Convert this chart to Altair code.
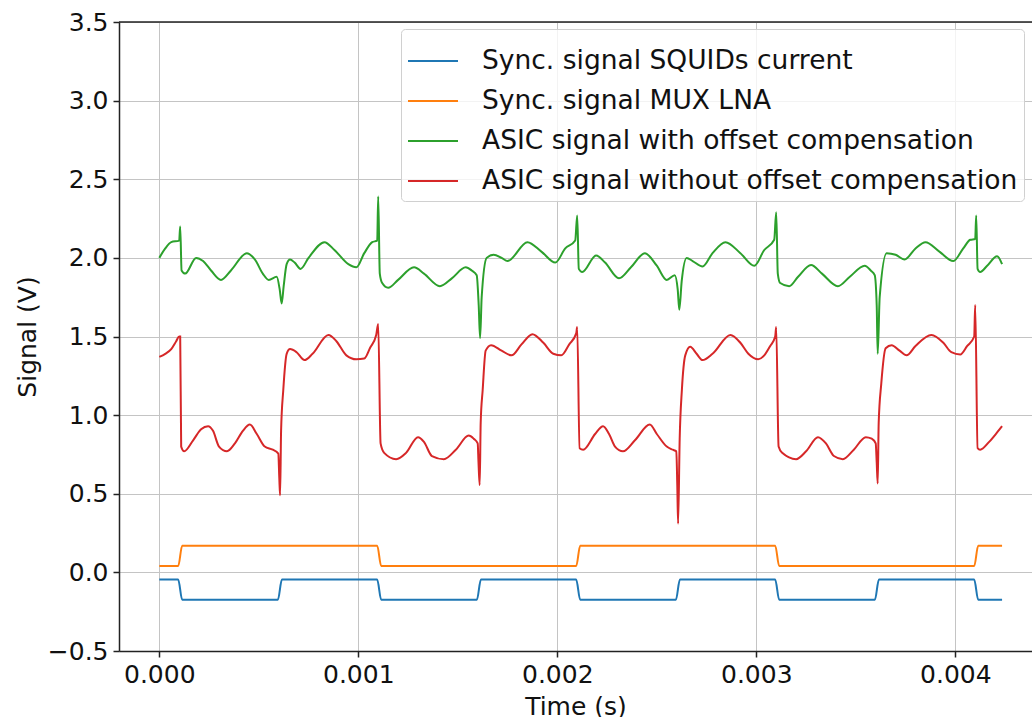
import altair as alt
import pandas as pd

# ---- data (time in ms, signal in V) ----
t_squid = [0.0, 0.095, 0.115, 0.596, 0.616, 1.095, 1.115, 1.596, 1.616, 2.095, 2.115,
           2.596, 2.616, 3.095, 3.115, 3.596, 3.616, 4.095, 4.115, 4.235]
v_squid = [-0.046, -0.046, -0.174, -0.174, -0.046, -0.046, -0.174, -0.174, -0.046, -0.046, -0.174,
           -0.174, -0.046, -0.046, -0.174, -0.174, -0.046, -0.046, -0.174, -0.174]

t_mux = [0.0, 0.095, 0.115, 1.095, 1.115, 2.095, 2.115, 3.095, 3.115, 4.095, 4.115, 4.235]
v_mux = [0.040, 0.040, 0.170, 0.170, 0.040, 0.040, 0.170, 0.170, 0.040, 0.040, 0.170, 0.170]

t_with = [0.00, 0.03, 0.06, 0.10, 0.105, 0.112, 0.13, 0.185, 0.22, 0.26, 0.31, 0.36, 0.44, 0.48,
          0.52, 0.55, 0.59, 0.605, 0.615, 0.625, 0.64, 0.657, 0.68, 0.71, 0.75, 0.83, 0.88, 0.95,
          0.99, 1.03, 1.07, 1.095, 1.10, 1.108, 1.12, 1.15, 1.20, 1.28, 1.33, 1.41, 1.47, 1.54,
          1.57, 1.595, 1.605, 1.612, 1.62, 1.645, 1.68, 1.72, 1.75, 1.85, 1.92, 1.99, 2.04, 2.09,
          2.10, 2.108, 2.125, 2.195, 2.24, 2.31, 2.37, 2.44, 2.50, 2.55, 2.59, 2.605, 2.613, 2.625,
          2.65, 2.68, 2.73, 2.78, 2.845, 2.92, 2.99, 3.04, 3.09, 3.10, 3.108, 3.12, 3.165, 3.21,
          3.275, 3.33, 3.41, 3.47, 3.545, 3.575, 3.595, 3.605, 3.61, 3.62, 3.655, 3.70, 3.745,
          3.80, 3.85, 3.92, 3.99, 4.04, 4.075, 4.10, 4.105, 4.112, 4.125, 4.16, 4.21, 4.235]
v_with = [2.00, 2.06, 2.10, 2.11, 2.20, 1.92, 1.90, 2.00, 1.98, 1.92, 1.86, 1.92, 2.03, 1.99,
          1.90, 1.86, 1.88, 1.80, 1.71, 1.82, 1.96, 1.99, 1.97, 1.93, 2.00, 2.10, 2.05, 1.96,
          1.94, 2.03, 2.10, 2.11, 2.39, 1.90, 1.84, 1.81, 1.86, 1.94, 1.90, 1.82, 1.87, 1.94,
          1.92, 1.89, 1.70, 1.49, 1.75, 2.00, 2.02, 2.00, 1.98, 2.10, 2.04, 1.97, 2.06, 2.11,
          2.27, 1.93, 1.91, 2.015, 1.97, 1.87, 1.94, 2.03, 1.95, 1.86, 1.89, 1.80, 1.67, 1.85,
          2.00, 1.98, 1.945, 2.03, 2.10, 2.03, 1.95, 2.05, 2.115, 2.29, 1.90, 1.84, 1.82, 1.88,
          1.955, 1.90, 1.82, 1.88, 1.95, 1.92, 1.89, 1.70, 1.39, 1.75, 2.03, 2.02, 1.99,
          2.06, 2.10, 2.04, 1.98, 2.06, 2.115, 2.12, 2.27, 1.93, 1.91, 1.95, 2.01, 1.96]

t_without = [0.00, 0.03, 0.06, 0.085, 0.10, 0.105, 0.11, 0.125, 0.17, 0.21, 0.245, 0.27, 0.30,
             0.34, 0.38, 0.42, 0.455, 0.49, 0.53, 0.57, 0.598, 0.603, 0.607, 0.612, 0.623, 0.64,
             0.657, 0.69, 0.73, 0.77, 0.85, 0.89, 0.94, 0.99, 1.03, 1.06, 1.09, 1.10, 1.112, 1.13,
             1.19, 1.24, 1.30, 1.33, 1.37, 1.43, 1.49, 1.555, 1.58, 1.60, 1.604, 1.61, 1.615,
             1.625, 1.64, 1.667, 1.72, 1.77, 1.82, 1.875, 1.93, 1.98, 2.02, 2.06, 2.095, 2.10,
             2.112, 2.13, 2.19, 2.23, 2.26, 2.29, 2.33, 2.39, 2.465, 2.50, 2.55, 2.58, 2.598,
             2.603, 2.607, 2.615, 2.626, 2.643, 2.668, 2.70, 2.73, 2.78, 2.87, 2.92, 2.96, 3.01,
             3.04, 3.07, 3.095, 3.10, 3.112, 3.13, 3.20, 3.25, 3.31, 3.35, 3.39, 3.435, 3.49,
             3.55, 3.58, 3.60, 3.605, 3.61, 3.615, 3.628, 3.65, 3.68, 3.72, 3.755, 3.80, 3.88,
             3.94, 3.98, 4.025, 4.06, 4.095, 4.10, 4.112, 4.125, 4.17, 4.21, 4.235]
v_without = [1.37, 1.39, 1.42, 1.47, 1.50, 1.50, 0.80, 0.77, 0.84, 0.91, 0.93, 0.90, 0.80,
             0.77, 0.82, 0.90, 0.94, 0.88, 0.80, 0.78, 0.755, 0.60, 0.49, 0.90, 1.16, 1.39,
             1.42, 1.40, 1.35, 1.39, 1.51, 1.47, 1.38, 1.355, 1.36, 1.43, 1.51, 1.58, 0.82, 0.76,
             0.72, 0.76, 0.86, 0.83, 0.74, 0.72, 0.78, 0.87, 0.85, 0.82, 0.70, 0.555, 0.95,
             1.16, 1.41, 1.445, 1.41, 1.38, 1.45, 1.515, 1.46, 1.39, 1.38, 1.45, 1.52, 1.56,
             0.79, 0.78, 0.88, 0.93, 0.88, 0.80, 0.77, 0.84, 0.94, 0.88, 0.80, 0.78, 0.77,
             0.55, 0.31, 0.85, 1.16, 1.38, 1.435, 1.39, 1.35, 1.39, 1.51, 1.46, 1.39, 1.355,
             1.38, 1.44, 1.50, 1.56, 0.80, 0.76, 0.72, 0.77, 0.86, 0.82, 0.74, 0.72, 0.78,
             0.86, 0.85, 0.82, 0.70, 0.565, 0.95, 1.20, 1.425, 1.445, 1.41, 1.38, 1.44, 1.51,
             1.46, 1.40, 1.385, 1.44, 1.50, 1.70, 0.79, 0.78, 0.83, 0.89, 0.93]

names = ["Sync. signal SQUIDs current", "Sync. signal MUX LNA",
         "ASIC signal with offset compensation", "ASIC signal without offset compensation"]
colors = ["#1f77b4", "#ff7f0e", "#2ca02c", "#d62728"]
x_ticks = [0.0, 0.001, 0.002, 0.003, 0.004]
y_ticks = [-0.5, 0.0, 0.5, 1.0, 1.5, 2.0, 2.5, 3.0, 3.5]

rows = []
for name, ts, vs in zip(names, [t_squid, t_mux, t_with, t_without],
                        [v_squid, v_mux, v_with, v_without]):
    for i, (t, v) in enumerate(zip(ts, vs)):
        rows.append({"series": name, "t": t / 1000.0, "v": v, "i": i})
df = pd.DataFrame(rows)

FONT = "DejaVu Sans"

x_enc = alt.X("t:Q", scale=alt.Scale(domain=[-0.0002025, 0.0043854], nice=False, zero=False),
              axis=alt.Axis(values=x_ticks, format=".3f", title="Time (s)"))
y_enc = alt.Y("v:Q", scale=alt.Scale(domain=[-0.5, 3.5], nice=False, zero=False),
              axis=alt.Axis(values=y_ticks, format=".1f", title="Signal (V)"))

lines = alt.Chart(df).mark_line(strokeWidth=2, clip=True, interpolate="monotone").encode(
    x=x_enc,
    y=y_enc,
    color=alt.Color("series:N", scale=alt.Scale(domain=names, range=colors),
                    legend=alt.Legend(title=None, orient="none", legendX=282, legendY=7,
                                      symbolType="stroke", symbolSize=2500, symbolStrokeWidth=2,
                                      labelFontSize=26.5, labelFont=FONT, labelColor="#111",
                                      labelLimit=0, labelOffset=23, rowPadding=-1,
                                      padding=6, fillColor="rgba(255,255,255,0.8)",
                                      strokeColor="#d0d0d0", cornerRadius=4)),
    order="i:Q",
)

top = alt.Chart(pd.DataFrame({"top": [3.5]})).mark_rule(color="#222", strokeWidth=1.5).encode(
    y=alt.Y("top:Q", scale=alt.Scale(domain=[-0.5, 3.5], nice=False, zero=False))
)

chart = alt.layer(lines, top).properties(
    width=913, height=629,
    autosize=alt.AutoSizeParams(type="none"),
    padding={"left": 119, "top": 22, "right": 0, "bottom": 66},
).configure_view(stroke=None).configure_axis(
    labelFont=FONT, labelFontSize=25, labelColor="#111",
    titleFont=FONT, titleFontSize=25, titleFontWeight="normal", titleColor="#111",
    domainColor="#222", domainWidth=1.5, tickColor="#222", tickWidth=1.5, tickSize=6,
    labelPadding=5, gridColor="#c4c4c4", gridWidth=1, titlePadding=7,
)

chart.save("out.html", embed_options={"renderer": "svg", "actions": False})
